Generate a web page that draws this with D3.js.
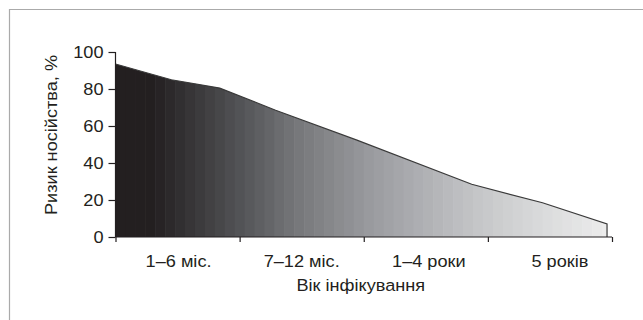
<!DOCTYPE html>
<html><head><meta charset="utf-8">
<script src="https://cdn.jsdelivr.net/npm/d3@7"></script>
<style>body{margin:0;background:#fff}svg{display:block}text{font-family:"Liberation Sans",Arial,sans-serif;fill:#231f20}</style>
</head><body>
<script>
// Data (x position in category units: 0..4 spans the four age groups)
const categories = ["1–6 міс.", "7–12 міс.", "1–4 роки", "5 років"];
const ageX = [0, 0.45, 0.84, 1.29, 1.94, 2.87, 3.44, 3.96];
const risk = [93.5, 85, 80.5, 68.5, 52.5, 28.5, 18.5, 7];
const yTicks = [0, 20, 40, 60, 80, 100];
const yTitle = "Ризик носійства, %";
const xTitle = "Вік інфікування";

const W = 643, H = 320;
const m = {left: 115.5, right: 31, top: 52, bottom: 83};
const FS = 16.5, SX = 1.1;
const labelShift = [1, 0, 3, 10];
const svg = d3.select("body").append("svg").attr("width", W).attr("height", H);

// outer frame
svg.append("path").attr("d", `M9.5,${H}V9.5H${W}`).attr("fill","none").attr("stroke","#aaa").attr("stroke-width",1.2);

const x = d3.scaleLinear().domain([0, 4]).range([m.left, W - m.right]);
const y = d3.scaleLinear().domain([0, 100]).range([H - m.bottom, m.top]);
const data = ageX.map((a, i) => ({a, v: risk[i]}));

const defs = svg.append("defs");
const area = d3.area().x(d => x(d.a)).y0(y(0)).y1(d => y(d.v));
defs.append("clipPath").attr("id","clip").append("path").attr("d", area(data));

const shade = d3.scaleLinear()
  .domain([0, 0.3, 0.68, 1.08, 1.48, 1.97, 2.45, 2.94, 3.42, 4])
  .range(["#231f20","#231f20","#3c3b3d","#58595c","#77787b","#95969a","#aeafb2","#c6c7c9","#d9dadb","#ededed"]);
const step = 0.08;
const stripes = d3.range(0, 4, step);
svg.append("g").attr("clip-path","url(#clip)").selectAll("rect").data(stripes).join("rect")
  .attr("x", d => x(d)).attr("width", x(step) - x(0) + 0.6)
  .attr("y", y(100)).attr("height", y(0) - y(100))
  .attr("fill", d => shade(d + step / 2));

const last = data[data.length - 1];
const line = d3.line().x(d => x(d.a)).y(d => y(d.v));
svg.append("path").attr("d", line(data) + `L${x(last.a)},${y(0)}`)
  .attr("fill","none").attr("stroke","#3a3a3a").attr("stroke-width",1.2);

// Y axis
const gy = svg.append("g").attr("transform", `translate(${m.left},0)`)
  .call(d3.axisLeft(y).tickValues(yTicks).tickSize(7).tickFormat(""));
gy.select(".domain").attr("stroke","#231f20").attr("stroke-width",1.2).attr("d", `M0,${y(0)}V${y(100)}`);
gy.selectAll("line").attr("stroke","#231f20").attr("stroke-width",1.2);
svg.append("g").selectAll("text").data(yTicks).join("text")
  .attr("transform", d => `translate(${m.left - 12},${y(d) + 6}) scale(${SX},1)`)
  .attr("text-anchor","end").attr("font-size",FS).text(d => d);

// X axis
const gx = svg.append("g").attr("transform", `translate(0,${y(0)})`)
  .call(d3.axisBottom(x).tickValues([0,1,2,3,4]).tickSize(5).tickFormat(""));
gx.select(".domain").attr("stroke","#231f20").attr("stroke-width",1.2).attr("d", `M${x(0)},0H${x(4)}`);
gx.selectAll("line").attr("stroke","#231f20").attr("stroke-width",1.2);

svg.append("g").selectAll("text").data(categories).join("text")
  .attr("transform", (d, i) => `translate(${x(i + 0.5) + labelShift[i]},${y(0) + 30}) scale(${SX},1)`)
  .attr("text-anchor","middle").attr("font-size",FS).text(d => d);

svg.append("text").attr("transform", `translate(${(x(0) + x(4)) / 2 - 3},291) scale(${SX},1)`)
  .attr("text-anchor","middle").attr("font-size",FS).text(xTitle);

svg.append("text").attr("transform", `translate(57,135) rotate(-90) scale(${SX},1)`)
  .attr("text-anchor","middle").attr("font-size",FS).text(yTitle);
</script>
</body></html>
